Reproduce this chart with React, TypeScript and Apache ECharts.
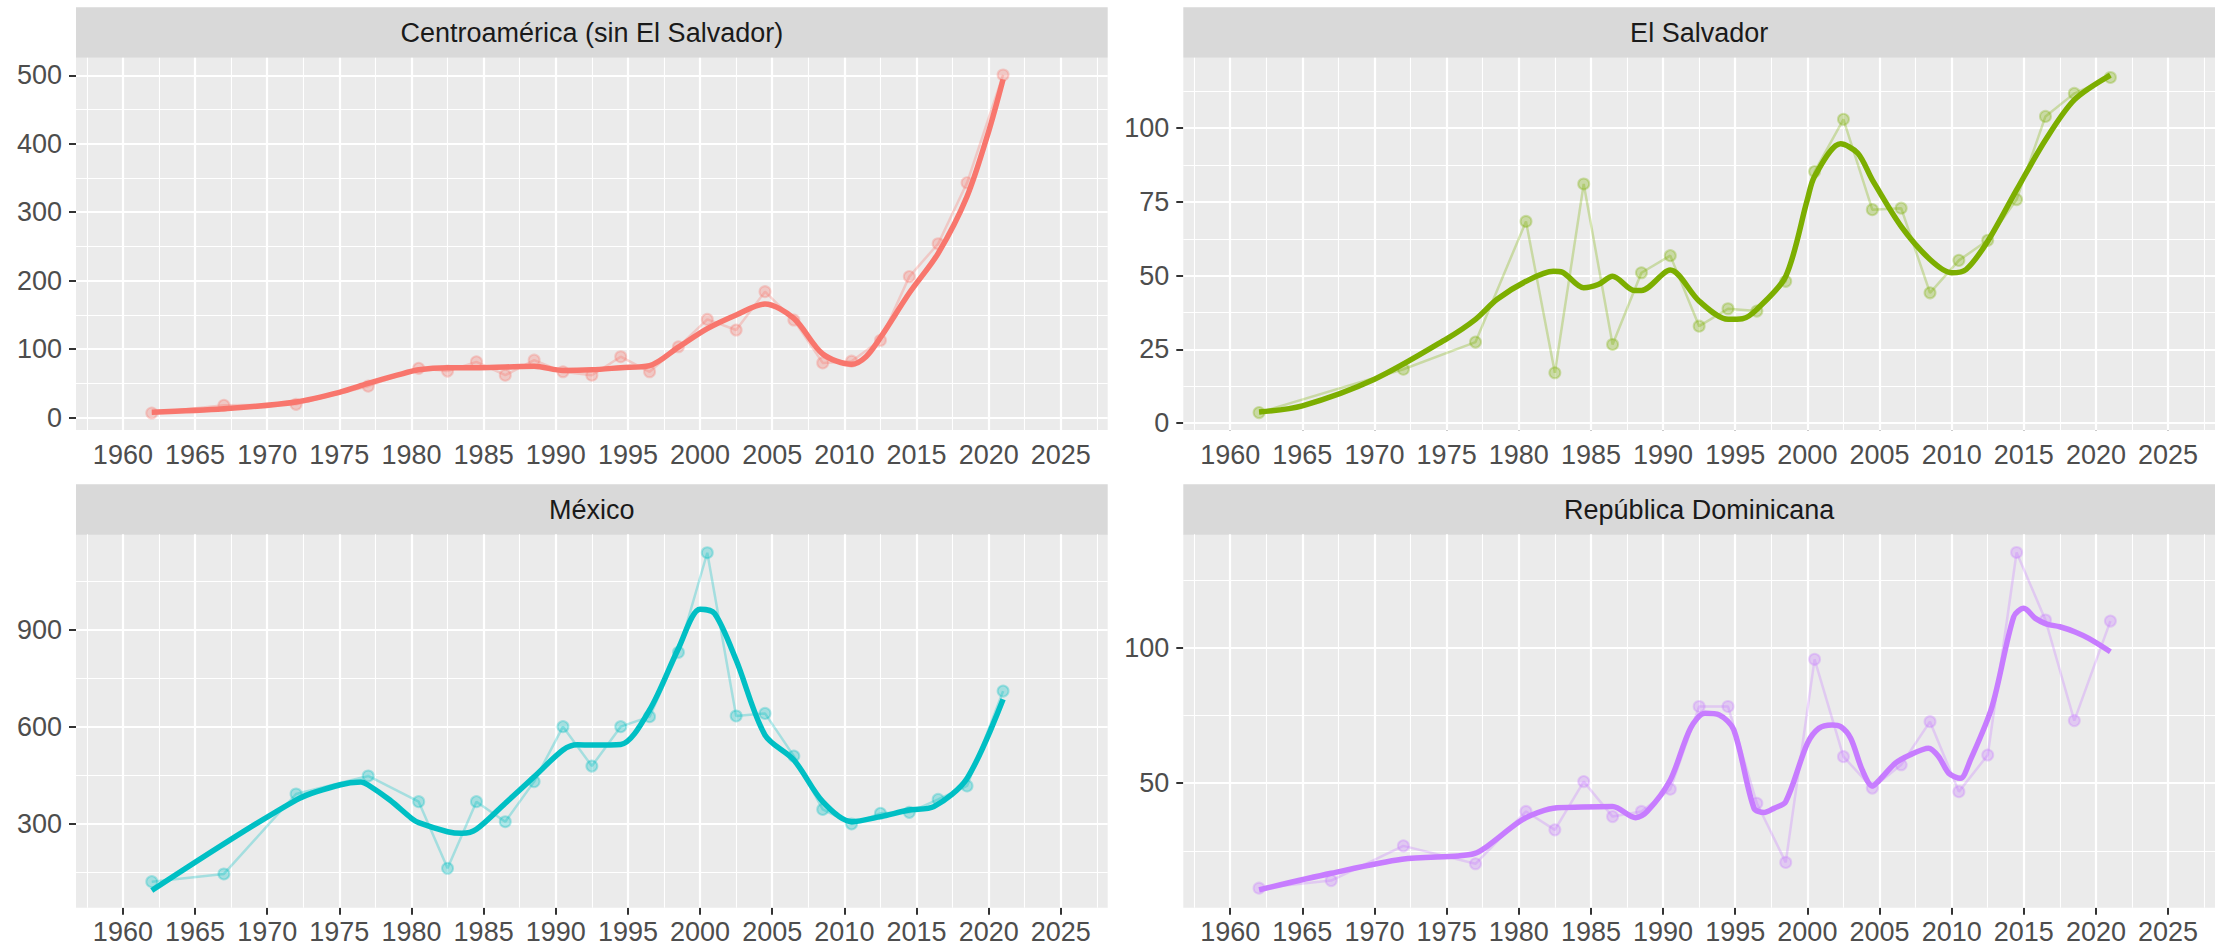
import React, { useEffect, useRef } from "react";
import * as echarts from "echarts";

// ---------- DATA ----------
const panelTitles = ["Centroamérica (sin El Salvador)", "El Salvador", "México", "República Dominicana"];
const panelColors = ["#F8766D", "#7CAE00", "#00BFC4", "#C77CFF"];

const years = [1962, 1967, 1972, 1977, 1980.5, 1982.5, 1984.5, 1986.5, 1988.5, 1990.5, 1992.5, 1994.5, 1996.5, 1998.5, 2000.5, 2002.5, 2004.5, 2006.5, 2008.5, 2010.5, 2012.5, 2014.5, 2016.5, 2018.5, 2021];

const centroRaw = [6.8, 18, 19.5, 46, 72, 68, 81.5, 62, 84, 67, 62, 89, 67, 103.5, 143.5, 128, 184, 142.6, 80, 82.5, 113, 206, 254, 343, 500.5];
const salvadorRaw = [3.6, null, 18.3, 27.5, 68.4, 17.1, 81.1, 26.7, 51, 56.8, 32.9, 38.8, 38, 48.1, 85.3, 103, 72.4, 72.9, 44.2, 55.2, 62, 75.8, 104, 111.8, 117.2];
const mexicoRaw = [121.6, 145.4, 392.8, 448.5, 369, 162.9, 369, 307, 431, 601, 479, 601, 632, 831, 1139, 634, 642, 510, 345, 300, 333, 336, 376, 417.5, 711];
const dominicanaRaw = [11.3, 14.1, 26.9, 20.3, 39.6, 32.8, 50.6, 37.7, 39.6, 47.8, 78.3, 78.3, 42.6, 20.8, 95.7, 59.8, 48.2, 56.8, 72.7, 46.9, 60.4, 135.1, 110.2, 73.1, 109.8];

const centroSmoothX = [1962, 1967, 1972, 1975, 1977, 1979, 1980.5, 1982.5, 1984.5, 1986.5, 1988.5, 1990.5, 1992.5, 1994.5, 1996.5, 1998.5, 2000.5, 2002.5, 2004.5, 2006.5, 2008.5, 2010.5, 2011.5, 2012.5, 2014.5, 2016.5, 2018.5, 2020, 2021];
const centroSmoothY = [8, 13, 23, 37, 50, 62, 70, 73, 73, 74, 75, 69, 70, 73, 76, 103, 130, 150, 166, 145, 93, 78, 89, 117, 182, 240, 323, 418, 494];

const salvadorSmoothX = [1962, 1965, 1970, 1975, 1977, 1978.5, 1980.5, 1982.4, 1983, 1984.5, 1985.5, 1986.5, 1988, 1988.5, 1990.5, 1992.5, 1994.5, 1995.5, 1996.5, 1998.5, 2000, 2000.5, 2002.3, 2003.5, 2004.5, 2006.5, 2008.5, 2010, 2011, 2012.5, 2014.5, 2016.5, 2018.5, 2021];
const salvadorSmoothY = [3.8, 5.9, 14.9, 28.6, 35.2, 42, 48.1, 51.5, 51.2, 45.9, 47, 49.8, 45, 45, 51.9, 41.4, 35.2, 35.4, 38.6, 49.8, 75.8, 83.7, 94.7, 91.5, 82.5, 66.7, 55.5, 51, 52.1, 61.7, 79.1, 96, 109.6, 118];

const mexicoSmoothX = [1962, 1972, 1975, 1976.5, 1977, 1978.5, 1980, 1980.5, 1982.5, 1983.5, 1984.5, 1986.5, 1988.5, 1990.5, 1991.5, 1992.5, 1994.5, 1996.5, 1998.5, 2000, 2001, 2002.5, 2004.5, 2006.5, 2008.5, 2010.5, 2012.5, 2014.5, 2016.2, 2018.5, 2021];
const mexicoSmoothY = [94, 374, 420.6, 430, 420.6, 374, 317.5, 304, 276, 271, 283.5, 364, 446, 529, 545, 544, 546, 652.6, 843, 964, 951.5, 807, 575, 498, 369, 307, 322.7, 343, 353.6, 441, 685.6];

const dominicanaSmoothX = [1962, 1967, 1971.9, 1975.8, 1976.9, 1977.8, 1979.9, 1980.9, 1982.4, 1984.4, 1986.5, 1988.1, 1988.9, 1990.5, 1991.9, 1992.9, 1993.9, 1994.9, 1996.3, 1997, 1997.7, 1998.5, 2000, 2000.8, 2001.7, 2002.3, 2003, 2003.8, 2004.5, 2005, 2006.1, 2007.1, 2008.4, 2009.1, 2009.8, 2010.6, 2011.3, 2012.8, 2014.3, 2015, 2015.8, 2016.6, 2017.5, 2018.6, 2019.5, 2021];
const dominicanaSmoothY = [10.7, 16.8, 22, 23.2, 24, 26.7, 35.3, 38.3, 40.8, 41.2, 41.4, 37.3, 39.6, 51.2, 70.3, 75.8, 75.2, 69.7, 40.8, 39.2, 40.8, 43.2, 64.7, 70.3, 71.5, 70.9, 66.6, 54.9, 49, 51.2, 57.4, 60.4, 62.9, 59.8, 53.7, 51.8, 58.6, 78.3, 111.4, 114.5, 110.8, 108.7, 107.7, 105.7, 103.4, 98.5];

const xTicks = [1960, 1965, 1970, 1975, 1980, 1985, 1990, 1995, 2000, 2005, 2010, 2015, 2020, 2025];
const xMinor = [1957.5, 1962.5, 1967.5, 1972.5, 1977.5, 1982.5, 1987.5, 1992.5, 1997.5, 2002.5, 2007.5, 2012.5, 2017.5, 2022.5, 2027.5];
const xRange = [1956.75, 2028.25];

const yTicks = [
  [0, 100, 200, 300, 400, 500],
  [0, 25, 50, 75, 100],
  [300, 600, 900],
  [50, 100],
];
const yMinor = [
  [50, 150, 250, 350, 450],
  [12.5, 37.5, 62.5, 87.5, 112.5],
  [150, 450, 750, 1050],
  [25, 75, 125],
];
const yRanges = [
  [-18, 525.7],
  [-2.3, 123.9],
  [41, 1196],
  [4.1, 141.8],
];

const rawSeries = [centroRaw, salvadorRaw, mexicoRaw, dominicanaRaw];
const smoothSeries = [
  [centroSmoothX, centroSmoothY],
  [salvadorSmoothX, salvadorSmoothY],
  [mexicoSmoothX, mexicoSmoothY],
  [dominicanaSmoothX, dominicanaSmoothY],
];

// ---------- LAYOUT ----------
const PANEL_W = 1031.7;
const panelLeft = [76, 1183.3, 76, 1183.3];
const panelTop = [57.7, 57.7, 534.3, 534.3];
const panelH = [372.3, 372.3, 373.4, 373.4];
const stripTop = [7.3, 7.3, 484.3, 484.3];
const STRIP_H = 50.4;
const FONT = "'Liberation Sans', Arial, sans-serif";
const FS = 27;

function rgba(hex: string, a: number) {
  const n = parseInt(hex.slice(1), 16);
  return `rgba(${(n >> 16) & 255},${(n >> 8) & 255},${n & 255},${a})`;
}

function buildOption() {
  const grid: any[] = [];
  const xAxis: any[] = [];
  const yAxis: any[] = [];
  const series: any[] = [];
  const graphic: any[] = [];

  for (let i = 0; i < 4; i++) {
    const c = panelColors[i];
    grid.push({
      left: panelLeft[i],
      top: panelTop[i],
      width: PANEL_W,
      height: panelH[i],
      show: true,
      backgroundColor: "#EBEBEB",
      borderWidth: 0,
      containLabel: false,
    });
    xAxis.push({
      type: "value",
      gridIndex: i,
      min: xRange[0],
      max: xRange[1],
      splitLine: { show: false },
      axisLine: { show: false },
      axisTick: { show: true, length: 7, lineStyle: { color: "#333333", width: 2 }, customValues: xTicks },
      axisLabel: {
        customValues: xTicks,
        fontSize: FS,
        color: "#4D4D4D",
        fontFamily: FONT,
        margin: 11,
        formatter: (v: number) => String(v),
      },
    });
    yAxis.push({
      type: "value",
      gridIndex: i,
      min: yRanges[i][0],
      max: yRanges[i][1],
      splitLine: { show: false },
      axisLine: { show: false },
      axisTick: { show: true, length: 7, lineStyle: { color: "#333333", width: 2 }, customValues: yTicks[i] },
      axisLabel: {
        customValues: yTicks[i],
        fontSize: FS,
        color: "#4D4D4D",
        fontFamily: FONT,
        margin: 14,
        formatter: (v: number) => String(v),
      },
    });

    const gridLines: any[] = [];
    xMinor.forEach((v) => gridLines.push({ xAxis: v, lineStyle: { color: "#FFFFFF", width: 1.1, type: "solid" } }));
    yMinor[i].forEach((v) => gridLines.push({ yAxis: v, lineStyle: { color: "#FFFFFF", width: 1.1, type: "solid" } }));
    xTicks.forEach((v) => gridLines.push({ xAxis: v, lineStyle: { color: "#FFFFFF", width: 2.2, type: "solid" } }));
    yTicks[i].forEach((v) => gridLines.push({ yAxis: v, lineStyle: { color: "#FFFFFF", width: 2.2, type: "solid" } }));

    const raw = rawSeries[i];
    const rawData = years.map((y, k) => [y, raw[k]]).filter((d) => d[1] !== null);

    series.push({
      type: "line",
      name: panelTitles[i] + " datos",
      xAxisIndex: i,
      yAxisIndex: i,
      data: rawData,
      z: 3,
      symbol: "circle",
      symbolSize: 11,
      showSymbol: true,
      lineStyle: { color: rgba(c, 0.3), width: 2.5 },
      itemStyle: { color: rgba(c, 0.3), borderColor: rgba(c, 0.3), borderWidth: 2 },
      emphasis: { disabled: true },
      markLine: {
        silent: true,
        symbol: ["none", "none"],
        z: 1,
        label: { show: false },
        emphasis: { disabled: true },
        lineStyle: { type: "solid", color: "#FFFFFF" },
        data: gridLines,
      },
    });

    const [sx, sy] = smoothSeries[i];
    series.push({
      type: "line",
      name: panelTitles[i] + " tendencia",
      xAxisIndex: i,
      yAxisIndex: i,
      data: sx.map((x, k) => [x, sy[k]]),
      z: 4,
      symbol: "none",
      showSymbol: false,
      smooth: 0.3,
      lineStyle: { color: c, width: 5.5 },
      emphasis: { disabled: true },
    });

    graphic.push({
      type: "rect",
      shape: { x: panelLeft[i], y: stripTop[i], width: PANEL_W, height: STRIP_H },
      style: { fill: "#D9D9D9" },
      silent: true,
    });
    graphic.push({
      type: "text",
      x: panelLeft[i] + PANEL_W / 2,
      y: stripTop[i] + STRIP_H / 2,
      style: {
        text: panelTitles[i],
        fill: "#1A1A1A",
        fontSize: FS,
        fontFamily: FONT,
        align: "center",
        verticalAlign: "middle",
      },
      silent: true,
    });
  }

  return {
    animation: false,
    backgroundColor: "#FFFFFF",
    grid,
    xAxis,
    yAxis,
    series,
    graphic,
  };
}

export default function App() {
  const ref = useRef<HTMLDivElement>(null);
  useEffect(() => {
    if (!ref.current) return;
    const chart = echarts.init(ref.current, undefined, { renderer: "svg" });
    chart.setOption(buildOption() as any);
    return () => chart.dispose();
  }, []);
  return (
    <div
      ref={ref}
      style={{ position: "fixed", left: 0, top: 0, width: 2215, height: 948, background: "#FFFFFF" }}
    />
  );
}
